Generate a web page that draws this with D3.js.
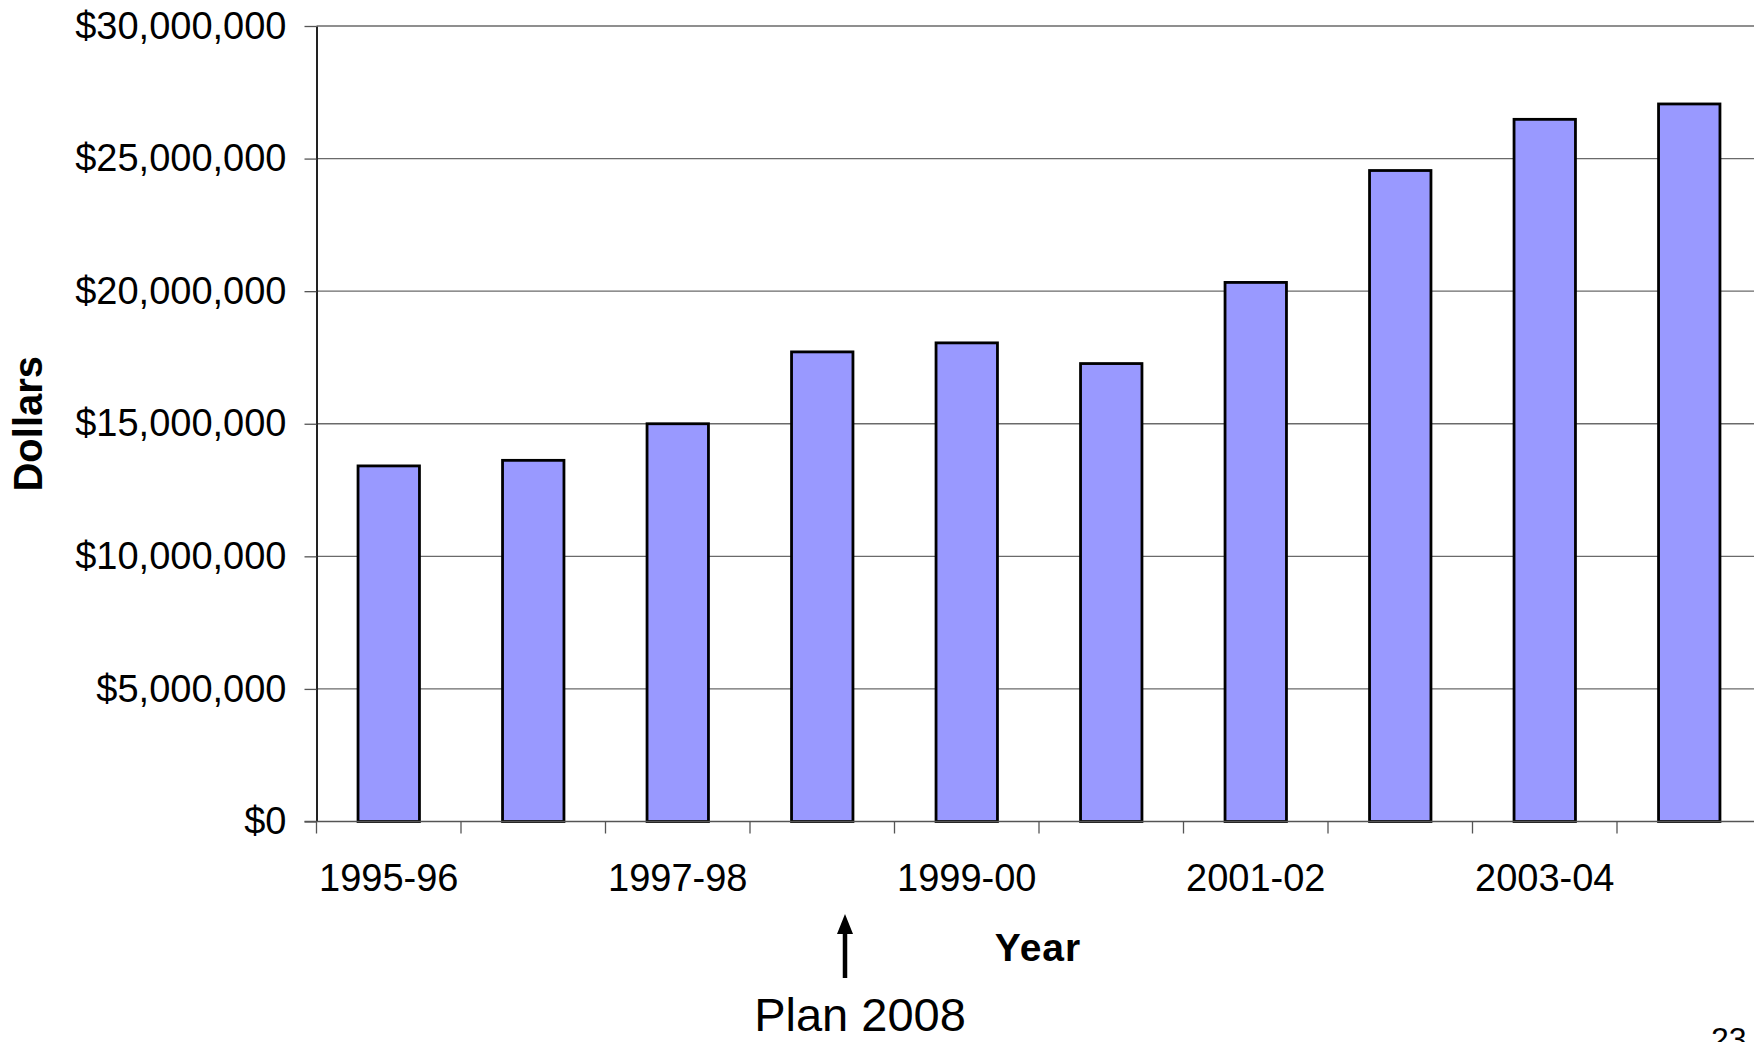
<!DOCTYPE html>
<html>
<head>
<meta charset="utf-8">
<script src="https://cdn.jsdelivr.net/npm/d3@7"></script>
<style>
  html, body { margin: 0; padding: 0; background: #ffffff; overflow: hidden; }
  svg { display: block; font-family: "Liberation Sans", Arial, sans-serif; }
</style>
</head>
<body>
<svg id="chart" width="1754" height="1042"></svg>
<script>
// Annual dollars by fiscal year
const categories = ["1995-96", "1996-97", "1997-98", "1998-99", "1999-00",
                    "2000-01", "2001-02", "2002-03", "2003-04", "2004-05"];
const dollars = [13410000, 13620000, 15000000, 17710000, 18050000,
                 17270000, 20330000, 24550000, 26480000, 27060000];
const yTicks = [0, 5000000, 10000000, 15000000, 20000000, 25000000, 30000000];

(function draw() {
  const svg = d3.select("#chart");
  const plotLeft = 316.5, plotTop = 26, plotBottom = 821.5;
  const step = 144.5;
  const plotRight = plotLeft + step * categories.length;

  const x = d3.scaleBand()
    .domain(categories)
    .range([plotLeft, plotRight])
    .paddingInner(0.575)
    .paddingOuter(0.2875);

  const y = d3.scaleLinear().domain([0, 30000000]).range([plotBottom, plotTop]);
  const fmt = d3.format(",");

  // horizontal gridlines
  svg.append("g")
    .selectAll("line")
    .data(yTicks.slice(1))
    .join("line")
    .attr("x1", plotLeft).attr("x2", plotRight)
    .attr("y1", d => y(d)).attr("y2", d => y(d))
    .attr("stroke", "#6a6a6a").attr("stroke-width", 1.3);

  // value axis
  const yAxis = svg.append("g")
    .attr("transform", `translate(${plotLeft},0)`)
    .call(d3.axisLeft(y).tickValues(yTicks).tickSize(12).tickSizeOuter(0).tickPadding(18)
      .tickFormat(d => "$" + fmt(d)));
  yAxis.select(".domain").attr("stroke", "#222").attr("stroke-width", 2);
  yAxis.selectAll(".tick line").attr("stroke", "#555").attr("stroke-width", 1.3);
  yAxis.selectAll(".tick text")
    .attr("font-size", 38).attr("fill", "#000")
    .attr("font-family", "Liberation Sans, Arial, sans-serif");

  // bars
  svg.append("g")
    .selectAll("rect")
    .data(categories.map((c, i) => ({ c, v: dollars[i] })))
    .join("rect")
    .attr("x", d => x(d.c))
    .attr("width", x.bandwidth())
    .attr("y", d => y(d.v))
    .attr("height", d => y(0) - y(d.v))
    .attr("fill", "#9999ff")
    .attr("stroke", "#000")
    .attr("stroke-width", 2.8);

  // category axis: labels on every other year, tick marks between categories
  const xAxis = svg.append("g")
    .attr("transform", `translate(0,${plotBottom})`)
    .call(d3.axisBottom(x).tickSize(0).tickPadding(43)
      .tickFormat((d, i) => i % 2 === 0 ? d : ""));
  xAxis.select(".domain").remove();
  xAxis.selectAll(".tick text")
    .attr("font-size", 38).attr("fill", "#000")
    .attr("font-family", "Liberation Sans, Arial, sans-serif");

  svg.append("line")
    .attr("x1", plotLeft - 12).attr("x2", plotRight)
    .attr("y1", plotBottom).attr("y2", plotBottom)
    .attr("stroke", "#555").attr("stroke-width", 1.6);

  svg.append("g")
    .selectAll("line")
    .data(d3.range(categories.length + 1))
    .join("line")
    .attr("x1", i => plotLeft + i * x.step()).attr("x2", i => plotLeft + i * x.step())
    .attr("y1", plotBottom).attr("y2", plotBottom + 12)
    .attr("stroke", "#555").attr("stroke-width", 1.3);

  // axis titles
  svg.append("text")
    .attr("transform", `translate(42,${(plotTop + plotBottom) / 2}) rotate(-90)`)
    .attr("text-anchor", "middle")
    .attr("font-size", 40).attr("font-weight", "bold")
    .text("Dollars");

  svg.append("text")
    .attr("x", 1038).attr("y", 961)
    .attr("text-anchor", "middle")
    .attr("font-size", 39).attr("font-weight", "bold")
    .attr("letter-spacing", 1)
    .text("Year");

  // Plan 2008 marker
  const ax = 845;
  svg.append("line")
    .attr("x1", ax).attr("x2", ax).attr("y1", 930).attr("y2", 978)
    .attr("stroke", "#000").attr("stroke-width", 4.5);
  svg.append("path")
    .attr("d", `M${ax},914 L${ax - 8},934 L${ax + 8},934 Z`)
    .attr("fill", "#000");
  svg.append("text")
    .attr("x", 860).attr("y", 1031)
    .attr("text-anchor", "middle")
    .attr("font-size", 47)
    .text("Plan 2008");

  // page number
  svg.append("text")
    .attr("x", 1711).attr("y", 1050)
    .attr("font-size", 32)
    .text("23");
})();
</script>
</body>
</html>
